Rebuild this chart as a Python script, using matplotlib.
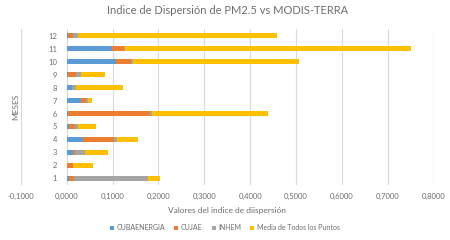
import matplotlib
matplotlib.use("Agg")
import matplotlib.pyplot as plt
import numpy as np
from matplotlib.ticker import FuncFormatter

meses = [1, 2, 3, 4, 5, 6, 7, 8, 9, 10, 11, 12]
cubaenergia = [0.006, 0.001, 0.013, 0.036, 0.006, 0.002, 0.032, 0.011, 0.002, 0.107, 0.099, 0.002]
cujae = [0.010, 0.012, 0.006, 0.067, 0.012, 0.180, 0.010, 0.000, 0.018, 0.034, 0.025, 0.013]
inhem = [0.162, 0.000, 0.022, 0.006, 0.007, 0.005, 0.004, 0.009, 0.012, 0.004, 0.004, 0.009]
media = [0.025, 0.045, 0.049, 0.047, 0.038, 0.252, 0.009, 0.102, 0.051, 0.362, 0.623, 0.434]
series_names = ["CUBAENERGIA", "CUJAE", "INHEM", "Media de Todos los Puntos"]
colors = ["#5B9BD5", "#ED7D31", "#A5A5A5", "#FFC000"]
xticks = [-0.1, 0.0, 0.1, 0.2, 0.3, 0.4, 0.5, 0.6, 0.7, 0.8]

plt.rcParams['font.family'] = ['Lato', 'DejaVu Sans']
txt = "#6E6E6E"

fig = plt.figure(figsize=(4.5, 2.4), dpi=100)
ax = fig.add_axes([0.046, 0.23, 0.918, 0.648])

left = np.zeros(len(meses))
for vals, name, c in zip([cubaenergia, cujae, inhem, media], series_names, colors):
    ax.barh(meses, vals, left=left, height=0.42, color=c, label=name, zorder=3)
    left = left + np.array(vals)

ax.set_xlim(-0.1, 0.8)
ax.set_ylim(0.5, 12.5)
ax.set_xticks(xticks)
ax.xaxis.set_major_formatter(FuncFormatter(lambda v, p: f"{v:.4f}".replace(".", ",")))
ax.set_yticks(meses)
ax.set_yticklabels([str(m) for m in meses])
ax.grid(axis='x', color="#D9D9D9", linewidth=0.8, zorder=0)
for s in ["top", "right", "bottom"]:
    ax.spines[s].set_visible(False)
ax.spines['left'].set_position(('data', 0))
ax.spines['left'].set_visible(False)
ax.tick_params(axis='x', length=0, labelsize=5.5, colors=txt, pad=6)
ax.tick_params(axis='y', length=0, labelsize=5.5, colors=txt, pad=7)

ax.set_xlabel("Valores del indice de diispersión", fontsize=6, color=txt, labelpad=5)
ax.set_ylabel("MESES", fontsize=6, color=txt)
ax.yaxis.set_label_coords(-0.004, 0.5)
ax.set_title("Indice de Dispersión de PM2.5 vs MODIS-TERRA", fontsize=8, color=txt, pad=11)

leg = fig.legend(loc='center', bbox_to_anchor=(0.5, 0.05), ncol=4, frameon=False,
                 fontsize=5, handlelength=0.55, handleheight=0.55, columnspacing=1.3,
                 handletextpad=0.4)
for t in leg.get_texts():
    t.set_color(txt)

fig.savefig("out.png", dpi=100)
